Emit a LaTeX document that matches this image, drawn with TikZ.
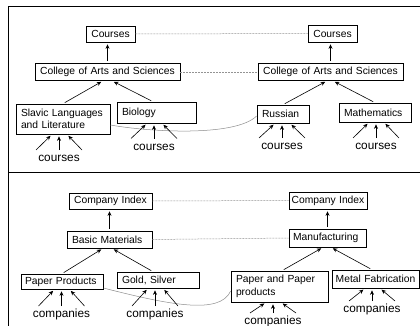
\documentclass[tikz,border=0pt]{standalone}
\usepackage{fontspec}
\setmainfont{Liberation Sans}
\usetikzlibrary{arrows.meta}
\begin{document}
\begin{tikzpicture}[x=1pt,y=-1pt,
  box/.style={draw=black, line width=0.7pt, inner xsep=5pt, inner ysep=0pt,
    font=\fontsize{10.3}{12.5}\selectfont, align=left},
  lbl/.style={font=\fontsize{11.8}{14}\selectfont, inner sep=0pt, text height=5.5pt, text depth=0pt},
  arr/.style={line width=0.6pt, -{Stealth[length=4.5pt,width=4pt]}, shorten >=2pt, shorten <=2pt},
  link/.style={draw=gray!85, line width=0.5pt, dash pattern=on 2pt off 1pt},
  curvelink/.style={draw=gray!90, line width=0.5pt},
  frame/.style={line width=1pt}]
\useasboundingbox (0,0) rectangle (420,326);
\clip (0,0) rectangle (420,326);

% frame
\draw[frame] (425,7) -| (8,330);
\draw[frame] (8,172) -- (425,172);

% upper panel
\node[box, text width=39pt, minimum height=16pt, align=center] (C1) at (110.5,34) {Courses};
\node[box, text width=39pt, minimum height=17pt, align=center] (C2) at (332.5,33.5) {Courses};
\node[box, text width=135pt, minimum height=17pt, align=center] (A1) at (107.5,72) {College of Arts and Sciences};
\node[box, text width=135pt, minimum height=17pt, align=center] (A2) at (330.5,72) {College of Arts and Sciences};
\node[box, text width=84pt, minimum height=30pt] (S) at (63,119) {Slavic Languages\\and Literature};
\node[box, text width=69pt, minimum height=21pt] (B) at (156.5,112.5) {Biology};
\node[box, text width=42pt, minimum height=18pt] (R) at (283,114) {Russian};
\node[box, text width=62pt, minimum height=19pt] (M) at (375,112.5) {Mathematics};

\node[lbl] (L1) at (59,159) {courses};
\node[lbl] (L2) at (154,147.5) {courses};
\node[lbl] (L3) at (282,147) {courses};
\node[lbl] (L4) at (376,147) {courses};

% lower panel
\node[box, text width=75pt, inner xsep=4pt, minimum height=16pt, align=center] (I1) at (110.5,201) {Company Index};
\node[box, text width=74pt, inner xsep=2pt, minimum height=17pt, align=center] (I2) at (328,200.5) {Company Index};
\node[box, text width=75pt, minimum height=17pt] (BM) at (109.5,239.5) {Basic Materials};
\node[box, text width=69pt, inner xsep=4pt, minimum height=18pt] (MF) at (327.5,238) {Manufacturing};
\node[box, text width=74pt, inner xsep=4pt, minimum height=15pt] (PP) at (62,281.5) {Paper Products};
\node[box, text width=72pt, minimum height=16pt] (GS) at (158,280) {Gold, Silver};
\node[box, text width=87pt, minimum height=31pt] (PPP) at (279.5,286.5) {Paper and Paper\\products};
\node[box, text width=83pt, inner xsep=2pt, minimum height=18pt, align=center] (MFab) at (375.5,279) {Metal Fabrication};

\node[lbl] (K1) at (61.5,315) {companies};
\node[lbl] (K2) at (155,315) {companies};
\node[lbl] (K3) at (273,322) {companies};
\node[lbl] (K4) at (372,310) {companies};

% dashed links
\draw[link] (C1.east) -- (C2.west);
\draw[link] (A1.east) -- (A2.west);
\draw[link] (I1.east) -- (I2.west);
\draw[link] (BM.east) -- (MF.west);

% curved links
\draw[curvelink] ([yshift=-6pt]S.east) .. controls (150,132) and (235,137) .. ([yshift=-2pt]R.west);
\draw[curvelink] ([yshift=-6.5pt]PP.east) .. controls (170,305) and (220,315) .. ([yshift=-4.5pt]PPP.west);

% hierarchy arrows upper
\draw[arr] (A1.north) -- (A1.north |- C1.south);
\draw[arr] (S.north) -- ([xshift=-4.5pt]A1.south);
\draw[arr] ([xshift=-3.5pt]B.north) -- ([xshift=4.5pt]A1.south);
\draw[arr] (A2.north) -- (A2.north |- C2.south);
\draw[arr] (R.north) -- ([xshift=-3.5pt]A2.south);
\draw[arr] (M.north) -- ([xshift=2.5pt]A2.south);

% hierarchy arrows lower
\draw[arr] (BM.north) -- (BM.north |- I1.south);
\draw[arr] (PP.north) -- ([xshift=-6.5pt]BM.south);
\draw[arr] ([xshift=-5pt]GS.north) -- ([xshift=2.5pt]BM.south);
\draw[arr] (MF.north) -- (MF.north |- I2.south);
\draw[arr] ([xshift=2.5pt]PPP.north) -- ([xshift=-4.5pt]MF.south);
\draw[arr] ([xshift=-3.5pt]MFab.north) -- ([xshift=3.5pt]MF.south);

% fan-in arrows
\foreach \l/\b in {L1/S, L2/B, L3/R, L4/M, K1/PP, K2/GS, K3/PPP, K4/MFab} {
  \draw[arr, shorten <=0pt] ([xshift=-23pt,yshift=9pt]\l.center) -- ([xshift=-7pt]\l.center |- \b.south);
  \draw[arr, shorten <=0pt] ([yshift=9pt]\l.center) -- (\l.center |- \b.south);
  \draw[arr, shorten <=0pt] ([xshift=23pt,yshift=9pt]\l.center) -- ([xshift=8pt]\l.center |- \b.south);
}
\end{tikzpicture}
\end{document}
